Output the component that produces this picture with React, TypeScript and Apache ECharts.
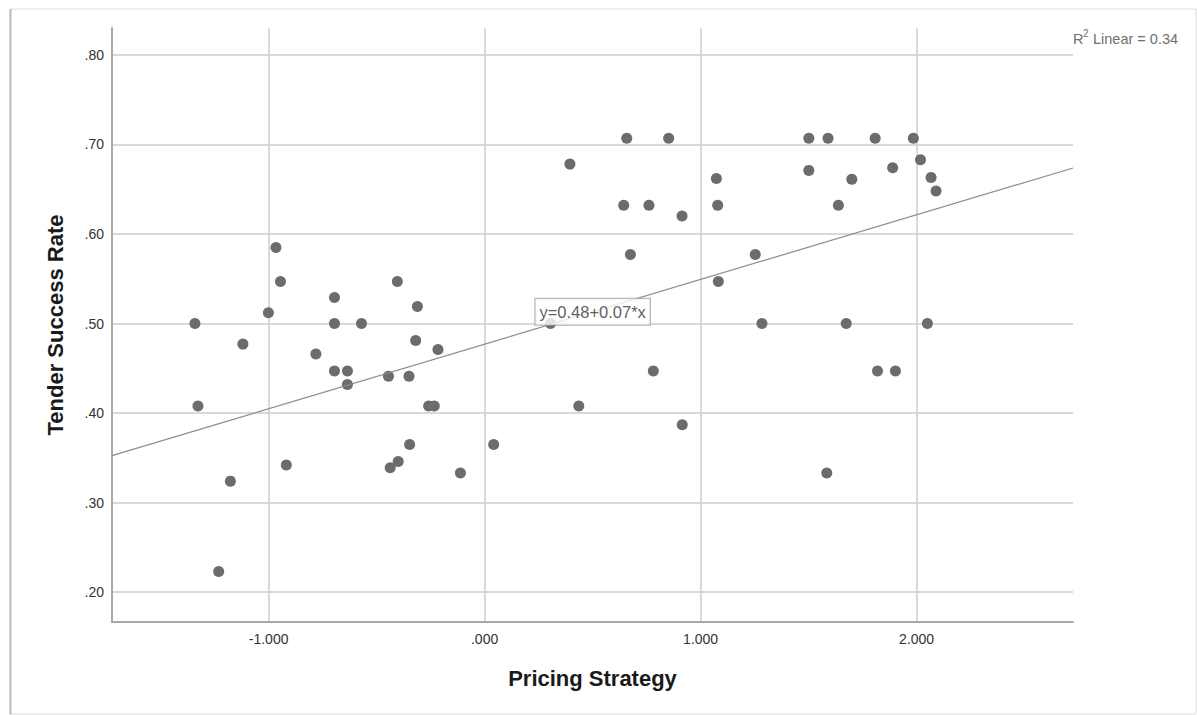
import React, { useEffect, useRef } from "react";
import * as echarts from "echarts";

// Pricing Strategy (x) and Tender Success Rate (y)
const pricingStrategy = [
  -1.341, -1.327, -1.231, -1.177, -1.119, -1.001, -0.966, -0.945, -0.918, -0.781,
  -0.695, -0.695, -0.695, -0.635, -0.635, -0.570, -0.445, -0.437, -0.400, -0.404,
  -0.350, -0.347, -0.311, -0.319, -0.259, -0.233, -0.216, -0.112, 0.042, 0.305,
  0.395, 0.436, 0.644, 0.658, 0.675, 0.761, 0.781, 0.852, 0.914, 0.915,
  1.073, 1.079, 1.082, 1.253, 1.284, 1.501, 1.501, 1.590, 1.584, 1.638,
  1.674, 1.700, 1.808, 1.819, 1.889, 1.902, 1.985, 2.018, 2.050, 2.067, 2.090,
];
const tenderSuccessRate = [
  0.500, 0.408, 0.223, 0.324, 0.477, 0.512, 0.585, 0.547, 0.342, 0.466,
  0.529, 0.500, 0.447, 0.447, 0.432, 0.500, 0.441, 0.339, 0.346, 0.547,
  0.441, 0.365, 0.519, 0.481, 0.408, 0.408, 0.471, 0.333, 0.365, 0.500,
  0.678, 0.408, 0.632, 0.707, 0.577, 0.632, 0.447, 0.707, 0.620, 0.387,
  0.662, 0.632, 0.547, 0.577, 0.500, 0.707, 0.671, 0.707, 0.333, 0.632,
  0.500, 0.661, 0.707, 0.447, 0.674, 0.447, 0.707, 0.683, 0.500, 0.663, 0.648,
];

const xTicks = [-1, 0, 1, 2];
const yTicks = [0.2, 0.3, 0.4, 0.5, 0.6, 0.7, 0.8];
const xRange = [-1.725, 2.724];
const yRange = [0.1667, 0.83];

// fit line
const fitIntercept = 0.477;
const fitSlope = 0.0722;
const equationText = "y=0.48+0.07*x";
const r2Text = "0.34";
const equationAtX = 0.5;

const xLabel = "Pricing Strategy";
const yLabel = "Tender Success Rate";

const fmtX = (v: number) => {
  const s = v.toFixed(3);
  return s.replace(/^0\./, ".").replace(/^-0\./, "-.");
};
const fmtY = (v: number) => v.toFixed(2).replace(/^0\./, ".");

export default function App() {
  const ref = useRef<HTMLDivElement>(null);
  useEffect(() => {
    if (!ref.current) return;
    const chart = echarts.init(ref.current, undefined, { renderer: "svg" });
    const font = "'Liberation Sans', Arial, sans-serif";
    const points = pricingStrategy.map((x, i) => [x, tenderSuccessRate[i]]);
    const fit = (x: number) => fitIntercept + fitSlope * x;
    chart.setOption({
      animation: false,
      backgroundColor: "#ffffff",
      textStyle: { fontFamily: font },
      grid: { left: 112, top: 28, right: 124, bottom: 93, containLabel: false },
      xAxis: {
        type: "value",
        min: xRange[0],
        max: xRange[1],
        name: xLabel,
        nameLocation: "middle",
        nameGap: 45,
        nameTextStyle: { fontSize: 22, fontWeight: "bold", color: "#1a1a1a", fontFamily: font },
        axisLine: { show: true, onZero: false, lineStyle: { color: "#a8a8a8", width: 2 } },
        axisTick: { show: false, customValues: xTicks },
        axisLabel: {
          customValues: xTicks,
          formatter: (v: number) => fmtX(v),
          fontSize: 14,
          color: "#333333",
          margin: 10,
          fontFamily: font,
        },
        splitLine: { show: true, lineStyle: { color: "#cdcdcd", width: 1.5 } },
      },
      yAxis: {
        type: "value",
        min: yRange[0],
        max: yRange[1],
        name: yLabel,
        nameLocation: "middle",
        nameGap: 46,
        nameRotate: 90,
        nameTextStyle: { fontSize: 22, fontWeight: "bold", color: "#1a1a1a", fontFamily: font },
        axisLine: { show: true, onZero: false, lineStyle: { color: "#a8a8a8", width: 2 } },
        axisTick: { show: false, customValues: yTicks },
        axisLabel: {
          customValues: yTicks,
          formatter: (v: number) => fmtY(v),
          fontSize: 14,
          color: "#333333",
          margin: 8,
          fontFamily: font,
        },
        splitLine: { show: true, lineStyle: { color: "#cdcdcd", width: 1.5 } },
      },
      series: [
        {
          type: "scatter",
          data: points,
          symbol: "circle",
          symbolSize: 11,
          itemStyle: { color: "#6c6c6c", opacity: 1 },
          z: 2,
        },
        {
          type: "line",
          data: [
            [xRange[0], fit(xRange[0])],
            [xRange[1], fit(xRange[1])],
          ],
          symbol: "none",
          lineStyle: { color: "#8c8c8c", width: 1.2 },
          z: 3,
        },
        {
          type: "scatter",
          data: [[equationAtX, fit(equationAtX)]],
          symbolSize: 0,
          z: 4,
          label: {
            show: true,
            position: "inside",
            formatter: equationText,
            fontSize: 16.5,
            color: "#333333",
            fontFamily: font,
            backgroundColor: "#ffffff",
            borderColor: "#9a9a9a",
            borderWidth: 1,
            padding: [5, 4, 4, 4],
          },
        },
      ],
      graphic: [
        {
          type: "rect",
          shape: { x: 10, y: 9, width: 1186, height: 705 },
          style: { fill: "none", stroke: "#dcdcdc", lineWidth: 1 },
          silent: true,
        },
        {
          type: "line",
          shape: { x1: 10.5, y1: 9, x2: 10.5, y2: 714 },
          style: { stroke: "#bdbdbd", lineWidth: 2 },
          silent: true,
        },
        {
          type: "text",
          x: 1073,
          y: 31,
          style: { text: "R", fontSize: 14.5, fill: "#707070", fontFamily: font },
        },
        {
          type: "text",
          x: 1083,
          y: 28,
          style: { text: "2", fontSize: 10, fill: "#707070", fontFamily: font },
        },
        {
          type: "text",
          x: 1093,
          y: 31,
          style: { text: "Linear = " + r2Text, fontSize: 14.5, fill: "#707070", fontFamily: font },
        },
      ],
    });
    return () => chart.dispose();
  }, []);
  return (
    <div
      ref={ref}
      style={{ position: "absolute", left: 0, top: 0, width: 1197, height: 715, background: "#fff" }}
    />
  );
}
